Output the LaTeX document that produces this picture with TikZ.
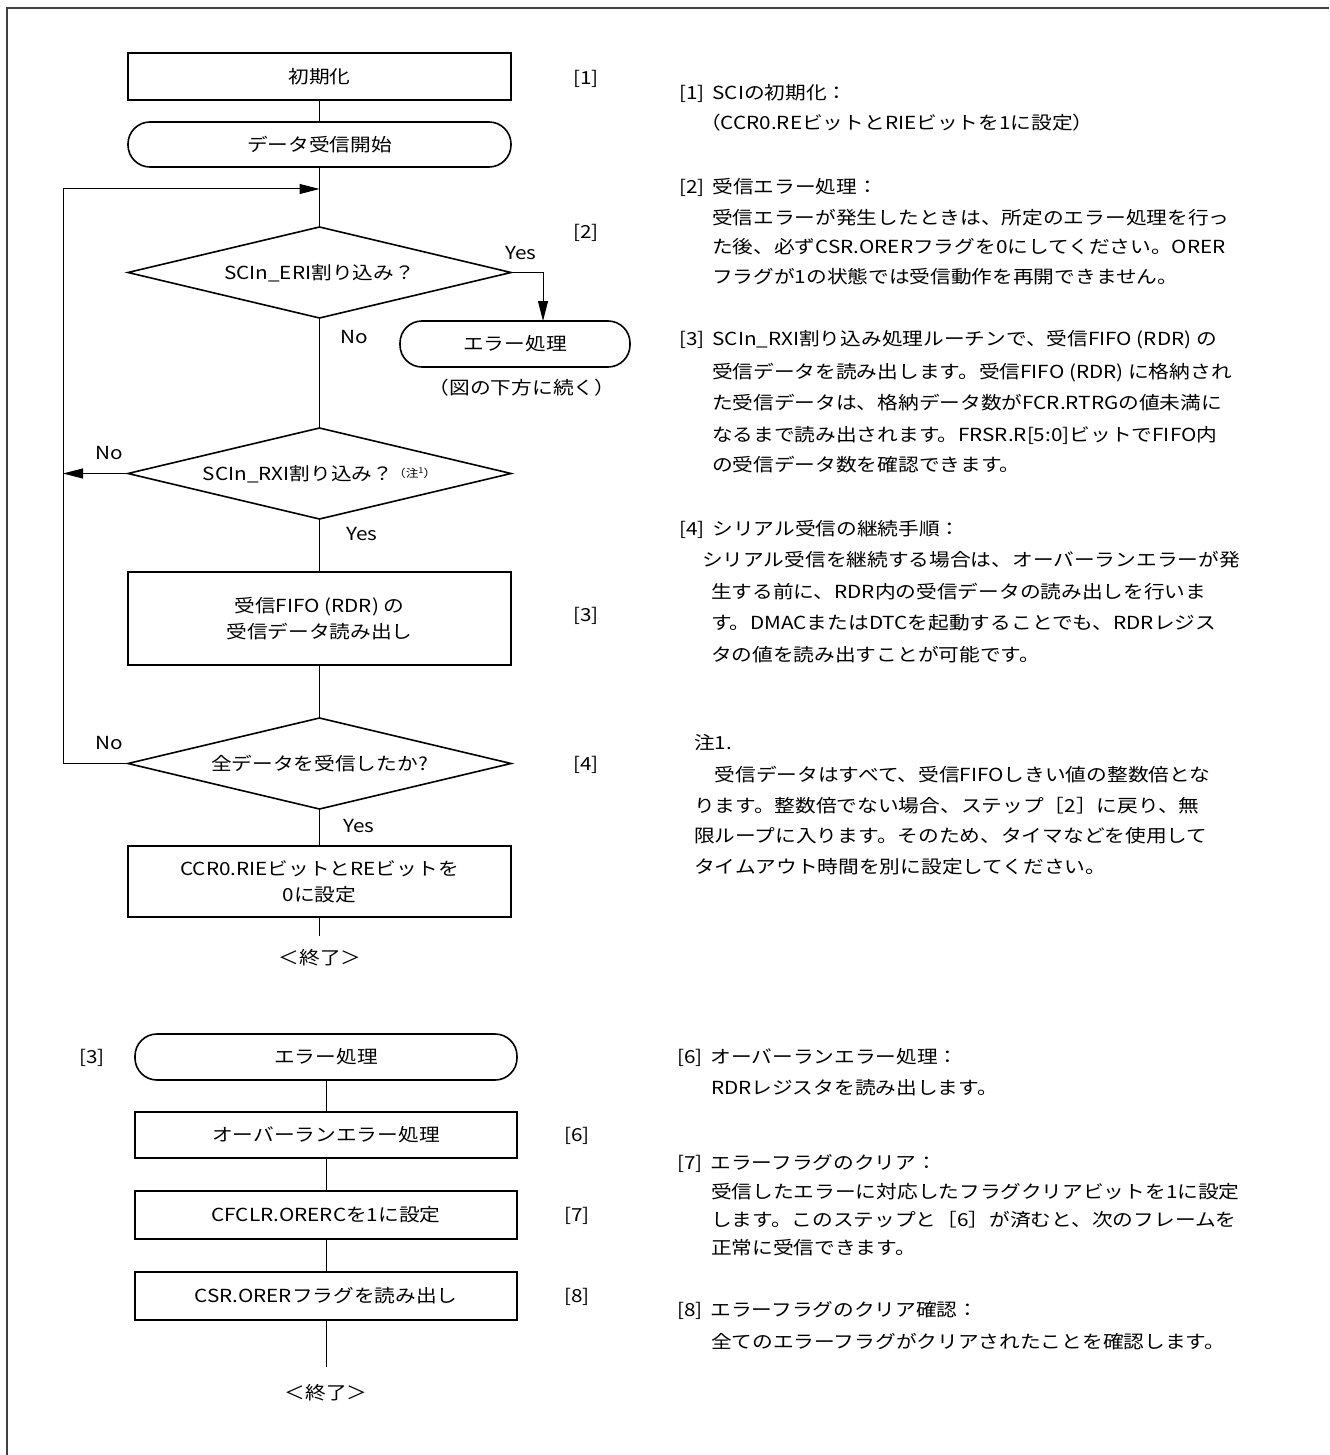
\documentclass[tikz,border=0pt]{standalone}
\usepackage{fontspec}
\setmainfont{Noto Sans CJK JP}[FakeStretch=1.15]
\usetikzlibrary{shapes.geometric,arrows.meta}
\begin{document}
\begin{tikzpicture}[x=0.5pt,y=-0.5pt,
  every node/.style={font=\fontsize{9}{13}\selectfont, inner sep=0pt, outer sep=0pt},
  box/.style={draw, line width=0.8pt, minimum width=191.5pt, align=center},
  term/.style={draw, line width=0.8pt, rounded corners=11pt, minimum width=191.5pt, minimum height=22.5pt, text height=7.9pt, text depth=1.1pt},
  dec/.style={draw, line width=0.8pt, diamond, aspect=4.2, minimum width=191.5pt, minimum height=45.5pt, text height=7.9pt, text depth=1.1pt},
  conn/.style={line width=0.5pt},
  arr/.style={line width=0.5pt, -{Triangle[length=10pt,width=5pt]}},
  lbl/.style={text height=7.9pt, text depth=1.1pt},
  txt/.style={anchor=west, text height=7.9pt, text depth=1.1pt},
  frame/.style={line width=1pt, draw=black!75}
]
\path[use as bounding box] (0,0) rectangle (1329,1455);
\draw[frame] (7,1455) -- (7,8) -- (1329,8);

% ---------- main flow ----------
\node[box, minimum height=23.5pt, lbl] (init) at (319.5,76.5) {初期化};
\node[term] (start) at (319.5,144.5) {データ受信開始};
\coordinate (j) at (319.5,189);
\node[dec] (eri) at (319.5,272.5) {SCIn\_ERI割り込み？};
\node[term, minimum width=115pt, minimum height=23pt] (err) at (515,344) {エラー処理};
\node[lbl] (cont) at (522,388) {（図の下方に続く）};
\node[dec] (rxi) at (319.5,473.5) {SCIn\_RXI割り込み？\raisebox{1.5pt}{\fontsize{5.5}{6}\selectfont （注\raisebox{2pt}{\fontsize{4}{5}\selectfont 1}）}};
\node[box, minimum height=46.5pt] (fifo) at (319.5,618.5) {受信FIFO (RDR) の\\受信データ読み出し};
\node[dec] (all) at (319.5,763.5) {全データを受信したか?};
\node[box, minimum height=35.5pt] (ccr) at (319.5,881.5) {CCR0.RIEビットとREビットを\\0に設定};
\coordinate (e1) at (319.5,936);
\node[lbl] (end1) at (320,958) {＜終了＞};

\coordinate (lc) at (63,189);
\coordinate (ya) at (543,272.5);

\draw[conn] (init.south) -- (start.north);
\draw[conn] (start.south) -- (eri.north);
\draw[arr] (eri.east) -- (ya) -- (ya |- err.north);
\draw[conn] (eri.south) -- (rxi.north);
\draw[arr] (rxi.west) -- (rxi.west -| lc);
\draw[conn] (rxi.south) -- (fifo.north);
\draw[conn] (fifo.south) -- (all.north);
\draw[arr] (all.west) -| (lc) -- (j);
\draw[conn] (all.south) -- (ccr.north);
\draw[conn] (ccr.south) -- (e1);

\node[lbl] (yes1) at (521,253) {Yes};
\node[lbl] (no1) at (354,337) {No};
\node[lbl] (no2) at (109,453) {No};
\node[lbl] (yes2) at (362,534) {Yes};
\node[lbl] (no3) at (109,743) {No};
\node[lbl] (yes3) at (359,826) {Yes};

\node[lbl] (s1) at (586,78) {[1]};
\node[lbl] (s2) at (586,232) {[2]};
\node[lbl] (s3) at (586,615) {[3]};
\node[lbl] (s4) at (586,764) {[4]};

% ---------- error flow ----------
\node[lbl] (s3b) at (92,1057) {[3]};
\node[term, minimum width=191pt, minimum height=23pt] (err2) at (326,1057) {エラー処理};
\node[box, minimum width=191pt, minimum height=23pt, lbl] (ovr) at (326,1135) {オーバーランエラー処理};
\node[box, minimum width=191pt, minimum height=24pt, lbl] (cfclr) at (326,1215) {CFCLR.ORERCを1に設定};
\node[box, minimum width=191pt, minimum height=24pt, lbl] (csr) at (326,1296) {CSR.ORERフラグを読み出し};
\coordinate (e2) at (326,1367);
\node[lbl] (end2) at (326,1393) {＜終了＞};
\draw[conn] (err2.south) -- (ovr.north);
\draw[conn] (ovr.south) -- (cfclr.north);
\draw[conn] (cfclr.south) -- (csr.north);
\draw[conn] (csr.south) -- (e2);

\node[lbl] (s6) at (577,1135) {[6]};
\node[lbl] (s7) at (577,1215) {[7]};
\node[lbl] (s8) at (577,1296) {[8]};

% ---------- right-hand notes ----------
\node[txt] (r1) at (679,93) {[1]\hspace{4pt}SCIの初期化：};
\node[txt] (r2) at (700,123) {（CCR0.REビットとRIEビットを1に設定）};
\node[txt] (r3) at (679,187) {[2]\hspace{4pt}受信エラー処理：};
\node[txt] (r4) at (712,218) {受信エラーが発生したときは、所定のエラー処理を行っ};
\node[txt] (r5) at (712,247) {た後、必ずCSR.ORERフラグを0にしてください。ORER};
\node[txt] (r6) at (712,277) {フラグが1の状態では受信動作を再開できません。};
\node[txt] (r7) at (679,339) {[3]\hspace{4pt}SCIn\_RXI割り込み処理ルーチンで、受信FIFO (RDR) の};
\node[txt] (r8) at (712,372) {受信データを読み出します。受信FIFO (RDR) に格納され};
\node[txt] (r9) at (712,403) {た受信データは、格納データ数がFCR.RTRGの値未満に};
\node[txt] (r10) at (712,435) {なるまで読み出されます。FRSR.R[5:0]ビットでFIFO内};
\node[txt] (r11) at (712,465) {の受信データ数を確認できます。};
\node[txt] (r12) at (679,529) {[4]\hspace{4pt}シリアル受信の継続手順：};
\node[txt] (r13) at (702,560) {シリアル受信を継続する場合は、オーバーランエラーが発};
\node[txt] (r14) at (711,592) {生する前に、RDR内の受信データの読み出しを行いま};
\node[txt] (r15) at (711,623) {す。DMACまたはDTCを起動することでも、RDRレジス};
\node[txt] (r16) at (711,655) {タの値を読み出すことが可能です。};
\node[txt] (r17) at (694,743) {注1.};
\node[txt] (r18) at (694,775) {　受信データはすべて、受信FIFOしきい値の整数倍とな};
\node[txt] (r19) at (694,806) {ります。整数倍でない場合、ステップ［2］に戻り、無};
\node[txt] (r20) at (694,836) {限ループに入ります。そのため、タイマなどを使用して};
\node[txt] (r21) at (694,867) {タイムアウト時間を別に設定してください。};
\node[txt] (r22) at (677,1057) {[6]\hspace{4pt}オーバーランエラー処理：};
\node[txt] (r23) at (711,1088) {RDRレジスタを読み出します。};
\node[txt] (r24) at (677,1163) {[7]\hspace{4pt}エラーフラグのクリア：};
\node[txt] (r25) at (711,1192) {受信したエラーに対応したフラグクリアビットを1に設定};
\node[txt] (r26) at (711,1220) {します。このステップと［6］が済むと、次のフレームを};
\node[txt] (r27) at (711,1248) {正常に受信できます。};
\node[txt] (r28) at (677,1310) {[8]\hspace{4pt}エラーフラグのクリア確認：};
\node[txt] (r29) at (711,1342) {全てのエラーフラグがクリアされたことを確認します。};
\end{tikzpicture}
\end{document}
